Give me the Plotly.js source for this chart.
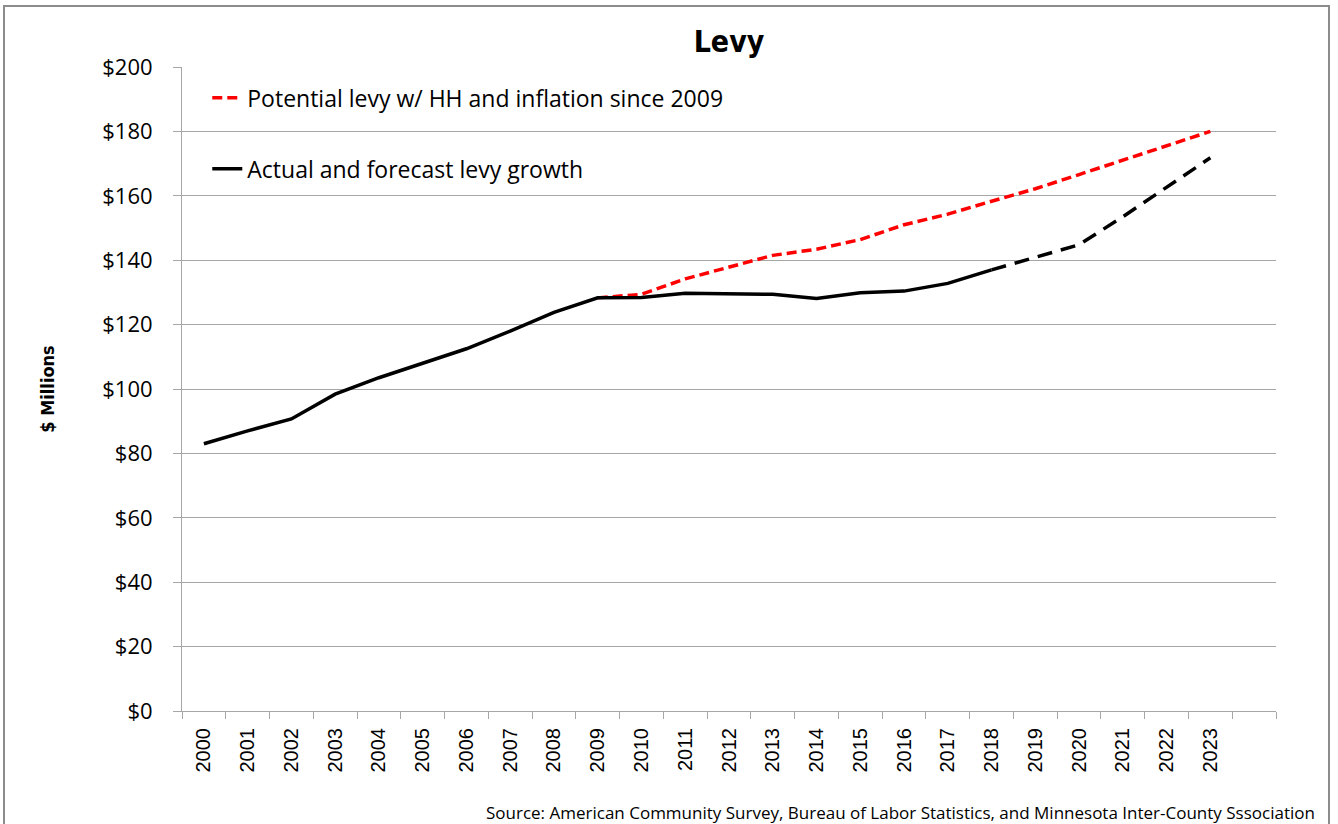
<!DOCTYPE html>
<html>
<head>
<meta charset="utf-8">
<script src="https://cdn.plot.ly/plotly-3.0.1.min.js"></script>
<style>
  html, body { margin: 0; padding: 0; background: #fff; overflow: hidden; }
  #wrap { position: relative; width: 1338px; height: 824px; }
  #chart { width: 1338px; height: 824px; }
  #frame { position: absolute; left: 3px; top: 5px; width: 1327px; height: 840px;
           border: 2px solid #8c8c8c; pointer-events: none; box-sizing: border-box; }
</style>
</head>
<body>
<div id="wrap">
  <div id="chart"></div>
  <div id="frame"></div>
</div>
<script>
// ---- data ----
const years = [2000, 2001, 2002, 2003, 2004, 2005, 2006, 2007, 2008, 2009, 2010, 2011,
               2012, 2013, 2014, 2015, 2016, 2017, 2018, 2019, 2020, 2021, 2022, 2023];
const yearLabels = years.map(String);

// Actual levy 2000-2018 (solid)
const actualYears = [2000, 2001, 2002, 2003, 2004, 2005, 2006, 2007, 2008, 2009,
                     2010, 2011, 2012, 2013, 2014, 2015, 2016, 2017, 2018];
const actualLevy = [83.0, 87.0, 90.7, 98.4, 103.5, 108.0, 112.5, 118.0, 123.8, 128.3,
                    128.4, 129.7, 129.6, 129.4, 128.1, 129.9, 130.4, 132.8, 137.0];

// Forecast levy 2018-2023 (dashed)
const forecastYears = [2018, 2019, 2020, 2021, 2022, 2023];
const forecastLevy = [137.0, 141.0, 144.8, 153.5, 162.8, 171.8];

// Potential levy with households and inflation since 2009
const potentialYears = [2009, 2010, 2011, 2012, 2013, 2014, 2015, 2016, 2017, 2018,
                        2019, 2020, 2021, 2022, 2023];
const potentialLevy = [128.3, 129.4, 134.2, 137.8, 141.5, 143.4, 146.4, 151.0, 154.3, 158.3,
                       162.2, 166.6, 171.1, 175.6, 180.0];

const yTicks = [0, 20, 40, 60, 80, 100, 120, 140, 160, 180, 200];
const yTickLabels = ['$0', '$20', '$40', '$60', '$80', '$100', '$120', '$140', '$160', '$180', '$200'];

const titleText = 'Levy';
const yTitle = '$ Millions';
const potentialName = 'Potential levy w/ HH and inflation since 2009';
const actualName = 'Actual and forecast levy growth';
const sourceText = 'Source: American Community Survey, Bureau of Labor Statistics, and Minnesota Inter-County Sssociation';

// ---- traces ----
const traces = [
  {
    x: potentialYears, y: potentialLevy, type: 'scatter', mode: 'lines',
    name: potentialName, legend: 'legend',
    line: { color: '#ff0000', width: 3.5, dash: '10px,5px' },
    hoverinfo: 'x+y'
  },
  {
    x: actualYears, y: actualLevy, type: 'scatter', mode: 'lines',
    name: actualName, legend: 'legend2',
    line: { color: '#000000', width: 3.5 },
    hoverinfo: 'x+y'
  },
  {
    x: forecastYears, y: forecastLevy, type: 'scatter', mode: 'lines',
    name: actualName, showlegend: false,
    line: { color: '#000000', width: 3.5, dash: '15px,9px' },
    hoverinfo: 'x+y'
  }
];

const gridColor = '#a6a6a6';

const layout = {
  width: 1338, height: 824,
  margin: { l: 182, r: 62, t: 67, b: 113 },
  paper_bgcolor: '#ffffff', plot_bgcolor: '#ffffff',
  font: { family: 'Open Sans, sans-serif', color: '#000' },
  title: {
    text: '<b>' + titleText + '</b>',
    font: { family: 'DejaVu Sans Condensed, DejaVu Sans, sans-serif', size: 30, color: '#000' },
    x: 0.5, xref: 'paper', xanchor: 'center',
    y: 1 - 41 / 824, yref: 'container', yanchor: 'middle'
  },
  xaxis: {
    type: 'linear',
    range: [1999.5, 2024.5],
    tickmode: 'array', tickvals: years, ticktext: yearLabels,
    tickangle: -90,
    ticks: '', showgrid: false, zeroline: false,
    showline: true, linecolor: gridColor, linewidth: 1,
    tickfont: { family: 'Liberation Sans, Arial, sans-serif', size: 20, color: '#000' },
    ticklabelstandoff: 8,
    minor: { tickmode: 'linear', tick0: 1999.5, dtick: 1, ticks: 'outside',
             ticklen: 7, tickcolor: gridColor, tickwidth: 1, showgrid: false },
    fixedrange: true
  },
  yaxis: {
    range: [0, 200],
    tickmode: 'array', tickvals: yTicks, ticktext: yTickLabels,
    ticks: 'outside', ticklen: 8, tickcolor: gridColor,
    showgrid: true, gridcolor: gridColor, gridwidth: 1,
    zeroline: false,
    showline: true, linecolor: gridColor, linewidth: 1,
    tickfont: { family: 'Open Sans, sans-serif', size: 22, color: '#000' },
    ticklabelstandoff: 16,
    title: {
      text: '<b>' + yTitle + '</b>',
      font: { family: 'DejaVu Sans Condensed, DejaVu Sans, sans-serif', size: 18, color: '#000' },
      standoff: 42
    },
    fixedrange: true
  },
  legend: {
    x: 0.0231, y: 0.952, xanchor: 'left', yanchor: 'middle',
    xref: 'paper', yref: 'paper',
    bgcolor: 'rgba(0,0,0,0)',
    font: { family: 'Open Sans, sans-serif', size: 23, color: '#000' }
  },
  legend2: {
    x: 0.0231, y: 0.842, xanchor: 'left', yanchor: 'middle',
    xref: 'paper', yref: 'paper',
    bgcolor: 'rgba(0,0,0,0)',
    font: { family: 'Open Sans, sans-serif', size: 23, color: '#000' }
  },
  annotations: [
    {
      text: sourceText, showarrow: false,
      xref: 'paper', yref: 'paper',
      x: (1317 - 182) / 1094, y: (711 - 813) / 644,
      xanchor: 'right', yanchor: 'middle',
      font: { family: 'Open Sans, sans-serif', size: 17, color: '#000' }
    }
  ],
  showlegend: true,
  hovermode: 'closest'
};

Plotly.newPlot('chart', traces, layout, { displayModeBar: false, responsive: false });
</script>
</body>
</html>
